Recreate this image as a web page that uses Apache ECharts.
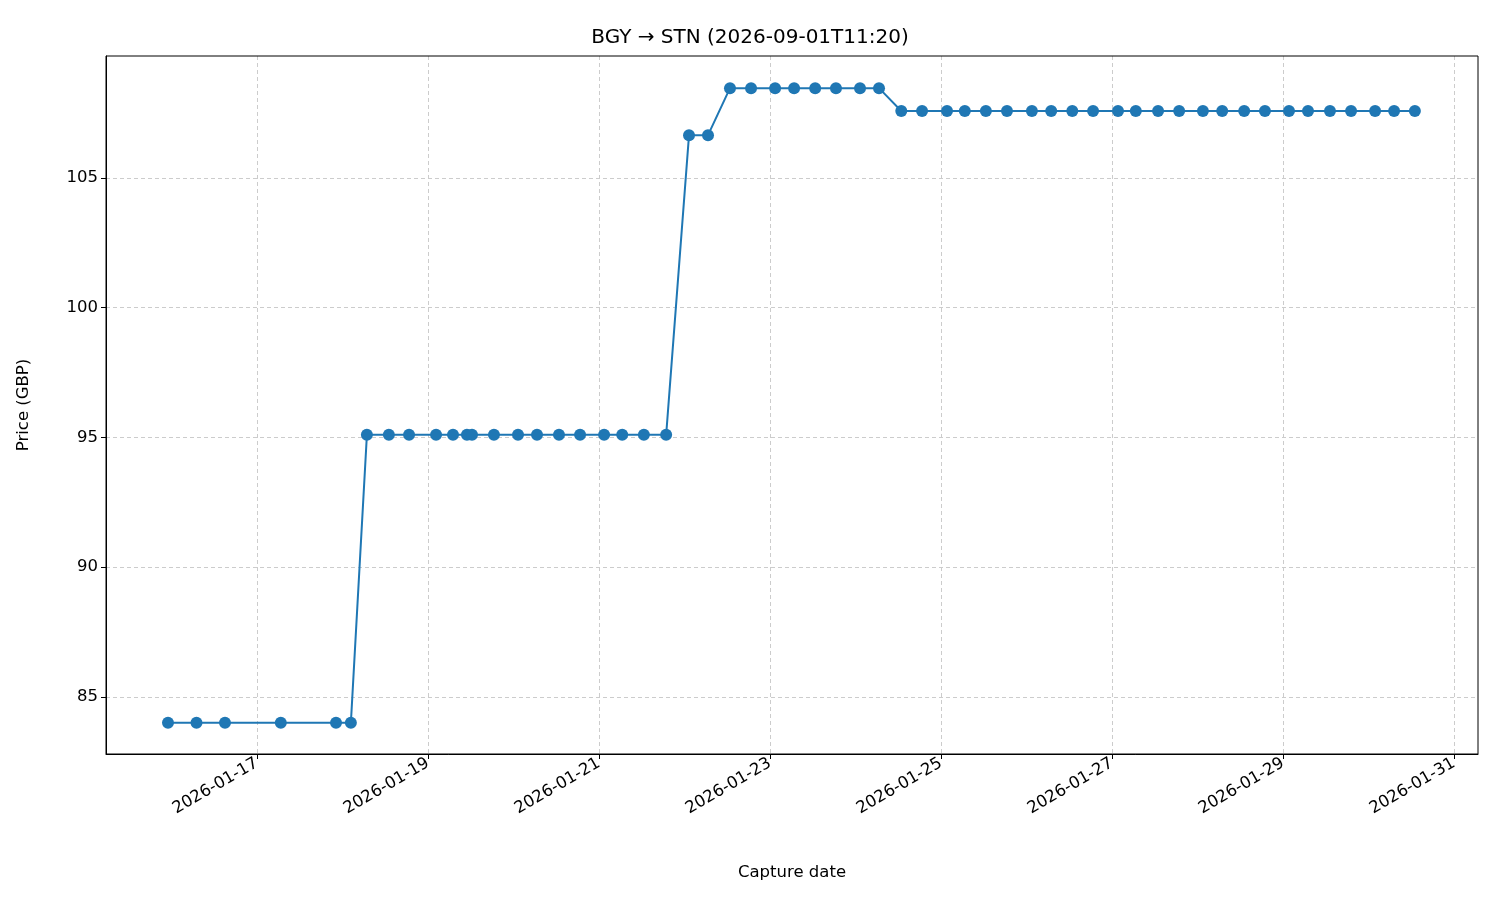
<!DOCTYPE html>
<html><head><meta charset="utf-8">
<script src="https://cdn.jsdelivr.net/npm/echarts@6/dist/echarts.min.js"></script>
<style>html,body{margin:0;padding:0;background:#fff}#c{width:1500px;height:900px}</style>
</head><body><div id="c"></div>
<script>
const captureTimes = [
"2026-01-15T23:00","2026-01-16T07:00","2026-01-16T15:00","2026-01-17T06:40","2026-01-17T22:10","2026-01-18T02:20",
"2026-01-18T06:50","2026-01-18T13:00","2026-01-18T18:40","2026-01-19T02:15","2026-01-19T07:00","2026-01-19T10:55",
"2026-01-19T12:20","2026-01-19T18:30","2026-01-20T01:15","2026-01-20T06:35","2026-01-20T12:45","2026-01-20T18:40",
"2026-01-21T01:25","2026-01-21T06:30","2026-01-21T12:35","2026-01-21T18:50",
"2026-01-22T01:15","2026-01-22T06:35",
"2026-01-22T12:45","2026-01-22T18:40","2026-01-23T01:25","2026-01-23T06:45","2026-01-23T12:40","2026-01-23T18:30","2026-01-24T01:15","2026-01-24T06:35",
"2026-01-24T12:50","2026-01-24T18:40","2026-01-25T01:40","2026-01-25T06:40","2026-01-25T12:35","2026-01-25T18:30",
"2026-01-26T01:30","2026-01-26T06:55","2026-01-26T12:50","2026-01-26T18:40","2026-01-27T01:40","2026-01-27T06:40",
"2026-01-27T12:55","2026-01-27T18:50","2026-01-28T01:30","2026-01-28T06:55","2026-01-28T13:05","2026-01-28T18:55",
"2026-01-29T01:40","2026-01-29T07:00","2026-01-29T13:10","2026-01-29T19:05","2026-01-30T01:50","2026-01-30T07:10","2026-01-30T13:00"];
const prices = [
84,84,84,84,84,84,
95.1,95.1,95.1,95.1,95.1,95.1,95.1,95.1,95.1,95.1,95.1,95.1,95.1,95.1,95.1,95.1,
106.65,106.65,
108.46,108.46,108.46,108.46,108.46,108.46,108.46,108.46,
107.58,107.58,107.58,107.58,107.58,107.58,107.58,107.58,107.58,107.58,107.58,107.58,107.58,107.58,107.58,107.58,107.58,107.58,107.58,107.58,107.58,107.58,107.58,107.58,107.58];
const tickDates = ["2026-01-17","2026-01-19","2026-01-21","2026-01-23","2026-01-25","2026-01-27","2026-01-29","2026-01-31"];
const yTicks = [85,90,95,100,105];
const xMin = "2026-01-15T05:36", xMax = "2026-01-31T06:43";
const yMin = 82.8, yMax = 109.7;

const t = s => Date.parse(s.length === 10 ? s + "T00:00Z" : s + "Z");
const tickVals = tickDates.map(t);
const fmt = v => { const d = new Date(v); return d.toISOString().slice(0,10); };
const font = "DejaVu Sans";
const chart = echarts.init(document.getElementById('c'));
chart.setOption({
  animation:false,
  title:{text:"BGY → STN (2026-09-01T11:20)",left:'center',top:23,textStyle:{fontFamily:font,fontSize:20,fontWeight:'normal',color:'#000'}},
  grid:{left:106,right:22,top:56,bottom:146},
  xAxis:{type:'value',min:t(xMin),max:t(xMax),name:'Capture date',nameLocation:'middle',nameGap:110,
    nameTextStyle:{fontFamily:font,fontSize:16.5,color:'#000'},
    axisLine:{lineStyle:{color:'#000'}},
    axisTick:{customValues:tickVals,length:5,lineStyle:{color:'#000'}},
    axisLabel:{customValues:tickVals,formatter:fmt,rotate:30,fontFamily:font,fontSize:16.5,color:'#000',margin:8},
    splitLine:{show:true,lineStyle:{color:'#ccc',type:[4,3]}}},
  yAxis:{type:'value',min:yMin,max:yMax,name:'Price (GBP)',nameLocation:'middle',nameGap:74,
    nameTextStyle:{fontFamily:font,fontSize:16.5,color:'#000'},
    axisLine:{show:true,lineStyle:{color:'#000'}},
    axisTick:{show:true,customValues:yTicks,length:5,lineStyle:{color:'#000'}},
    axisLabel:{customValues:yTicks,fontFamily:font,fontSize:16.5,color:'#000'},
    splitLine:{show:true,lineStyle:{color:'#ccc',type:[4,3]}}},
  series:[{type:'line',data:captureTimes.map((s,i)=>[t(s),prices[i]]),
    symbol:'circle',symbolSize:12,lineStyle:{color:'#1f77b4',width:2},itemStyle:{color:'#1f77b4'}}]
});
chart.setOption({graphic:[{type:'rect',shape:{x:106,y:56,width:1372,height:698},style:{fill:'none',stroke:'#000',lineWidth:1},silent:true}]});
</script></body></html>
